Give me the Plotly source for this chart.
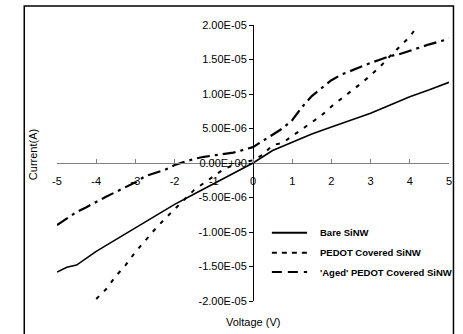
import plotly.graph_objects as go

# ---- data ----
bare_v = [-5, -4.75, -4.5, -4, -3.5, -3, -2.5, -2, -1.5, -1, -0.5, 0, 0.5, 1, 1.5, 2, 2.5, 3, 3.5, 4, 4.5, 5]
bare_i = [-15.8, -15.1, -14.8, -12.8, -11.1, -9.4, -7.7, -6.0, -4.5, -3.0, -1.5, 0, 1.8, 3.0, 4.2, 5.2, 6.2, 7.2, 8.4, 9.6, 10.6, 11.7]

pedot_v = [-4.0, -3.75, -3.5, -3.25, -3.0, -2.75, -2.5, -2.25, -2.0, -1.75, -1.5, -1.25, -1.0, -0.75, -0.5,
           -0.25, 0, 0.25, 0.5, 0.75, 1.0, 1.25, 1.5, 1.75, 2.0, 2.25, 2.5, 2.75, 3.0, 3.25, 3.5, 3.75, 4.0, 4.15]
pedot_i = [-19.7, -18.3, -16.4, -14.8, -12.9, -11.2, -9.6, -8.1, -6.7, -5.3, -3.9, -2.9, -1.9, -0.9, -0.3,
           0.1, 0.4, 1.2, 2.6, 2.9, 3.9, 5.0, 5.9, 6.9, 8.2, 9.3, 10.3, 11.5, 12.7, 14.0, 15.5, 16.9, 18.3, 19.5]

aged_v = [-5, -4.75, -4.5, -4.25, -4, -3.75, -3.5, -3.25, -3, -2.75, -2.5, -2.25, -2, -1.75, -1.5, -1.25, -1,
          -0.5, 0, 0.25, 0.5, 0.75, 1.0, 1.25, 1.5, 1.75, 2.0, 2.25, 2.5, 2.75, 3.0, 3.25, 3.5, 3.75, 4.0,
          4.25, 4.5, 4.75, 5]
aged_i = [-9.0, -8.0, -7.1, -6.4, -5.6, -4.9, -4.2, -3.5, -2.8, -1.9, -1.5, -1.0, -0.3, 0.2, 0.6, 0.9, 1.1,
          1.5, 2.3, 3.2, 4.2, 5.0, 6.2, 8.1, 9.7, 10.9, 12.0, 12.8, 13.4, 13.9, 14.5, 15.0, 15.5, 15.8, 16.3,
          16.8, 17.2, 17.6, 18.0]
SCALE = 1e-6

series_names = ["Bare SiNW", "PEDOT Covered SiNW", "'Aged' PEDOT Covered SiNW"]

x_ticks = [-5, -4, -3, -2, -1, 0, 1, 2, 3, 4, 5]
x_ticklabels = ["-5", "-4", "-3", "-2", "-1", "0", "1", "2", "3", "4", "5"]
y_ticks = [2e-5, 1.5e-5, 1e-5, 5e-6, 0, -5e-6, -1e-5, -1.5e-5, -2e-5]
y_ticklabels = ["2.00E-05", "1.50E-05", "1.00E-05", "5.00E-06", "0.00E+00",
                "-5.00E-06", "-1.00E-05", "-1.50E-05", "-2.00E-05"]

# ---- layout geometry ----
W, H = 463, 334
L, R, T, B = 57, 11, 25, 33
PW, PH = W - L - R, H - T - B


def px_x(px):
    return (px - L) / PW


def px_y(py):
    return (H - B - py) / PH


FONT = "Liberation Sans, Arial, sans-serif"
styles = [
    dict(color="black", width=1.6, dash="solid"),
    dict(color="black", width=2, dash="4px,7px"),
    dict(color="black", width=2.2, dash="13px,5px,3px,5px"),
]

fig = go.Figure()
for name, xs, ys, st in zip(series_names, [bare_v, pedot_v, aged_v], [bare_i, pedot_i, aged_i], styles):
    fig.add_trace(go.Scatter(x=xs, y=[v * SCALE for v in ys], mode="lines", name=name,
                             line=st, showlegend=False))

fig.update_layout(
    width=W, height=H,
    margin=dict(l=L, r=R, t=T, b=B, pad=0),
    paper_bgcolor="white", plot_bgcolor="white",
    font=dict(family=FONT, size=11, color="black"),
    xaxis=dict(range=[-5, 5], tickvals=x_ticks, ticktext=x_ticklabels, showgrid=False, zeroline=False,
               showline=True, linecolor="#808080", linewidth=1, ticks="inside", ticklen=4,
               tickcolor="#808080", anchor="free", position=0.5, tickfont=dict(size=11),
               ticklabelstandoff=8),
    yaxis=dict(range=[-2e-5, 2e-5], tickvals=y_ticks, ticktext=y_ticklabels, showgrid=False,
               zeroline=False, showline=True, linecolor="black", linewidth=1, ticks="outside",
               ticklen=4, tickcolor="black", anchor="free", position=0.5, tickfont=dict(size=11)),
    showlegend=False,
)

# outer chart border
fig.add_shape(type="rect", xref="paper", yref="paper", x0=px_x(24), x1=px_x(456.5),
              y0=px_y(345), y1=px_y(6), line=dict(color="black", width=1.5), layer="above")

# axis titles
fig.add_annotation(text="Current(A)", xref="paper", yref="paper", x=px_x(33), y=px_y(155),
                   xanchor="center", yanchor="middle", textangle=-90, showarrow=False,
                   font=dict(size=11))
fig.add_annotation(text="Voltage (V)", xref="paper", yref="paper", x=px_x(255), y=px_y(322),
                   xanchor="center", yanchor="middle", showarrow=False, font=dict(size=11))

# legend (manual)
leg_rows = [232.7, 252.7, 272]
leg_dash = ["solid", "5px,5px", "10px,6px"]
for name, st, ry, dsh in zip(series_names, styles, leg_rows, leg_dash):
    fig.add_shape(type="line", xref="paper", yref="paper", x0=px_x(273.5), x1=px_x(309),
                  y0=px_y(ry), y1=px_y(ry), line=dict(color="black", width=2, dash=dsh))
    fig.add_annotation(text="<b>" + name + "</b>", xref="paper", yref="paper", x=px_x(320),
                       y=px_y(ry), xanchor="left", yanchor="middle", showarrow=False,
                       font=dict(size=9.5))

fig.write_html("out.html")
